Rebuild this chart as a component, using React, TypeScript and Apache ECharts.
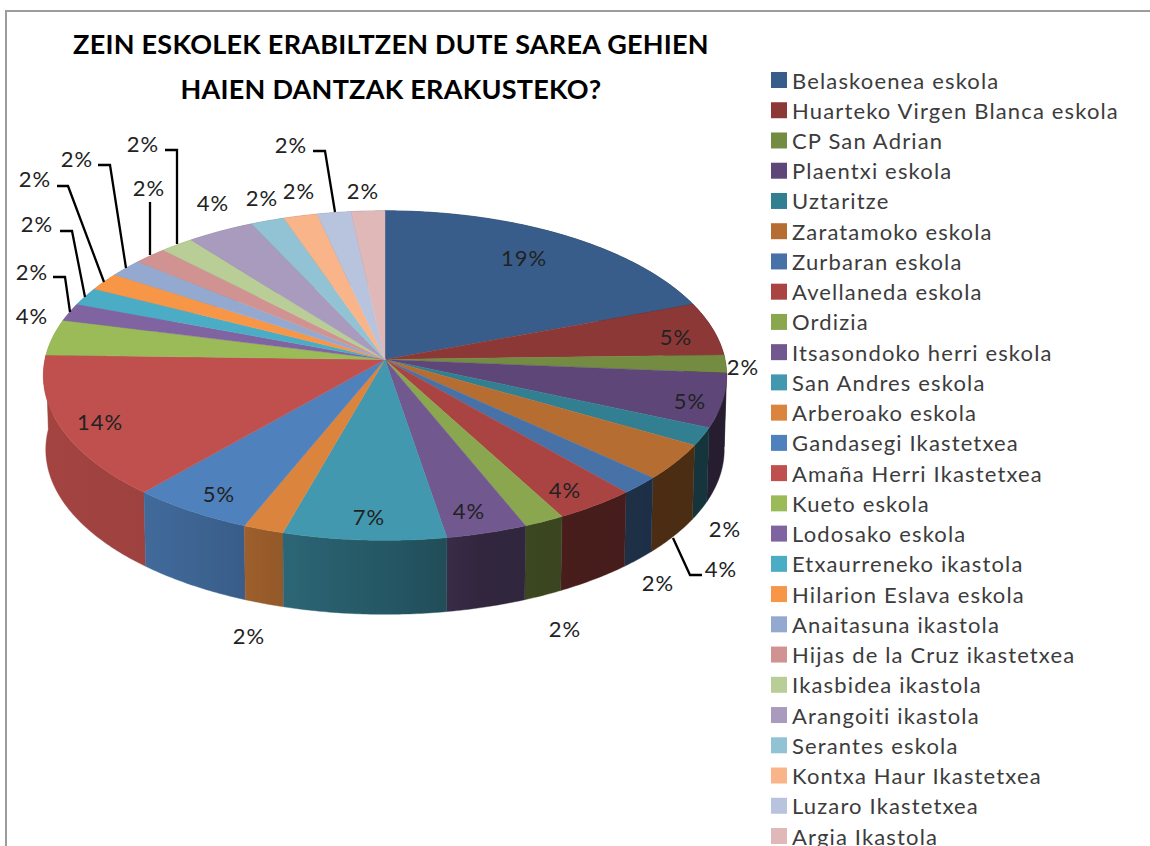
import React, { useEffect, useRef } from "react";
import * as echarts from "echarts";

const TITLE = "ZEIN ESKOLEK ERABILTZEN DUTE SAREA GEHIEN\nHAIEN DANTZAK ERAKUSTEKO?";

const schools = [
  "Belaskoenea eskola", "Huarteko Virgen Blanca eskola", "CP San Adrian", "Plaentxi eskola", "Uztaritze",
  "Zaratamoko eskola", "Zurbaran eskola", "Avellaneda eskola", "Ordizia", "Itsasondoko herri eskola",
  "San Andres eskola", "Arberoako eskola", "Gandasegi Ikastetxea", "Amaña Herri Ikastetxea", "Kueto eskola",
  "Lodosako eskola", "Etxaurreneko ikastola", "Hilarion Eslava eskola", "Anaitasuna ikastola",
  "Hijas de la Cruz ikastetxea", "Ikasbidea ikastola", "Arangoiti ikastola", "Serantes eskola",
  "Kontxa Haur Ikastetxea", "Luzaro Ikastetxea", "Argia Ikastola",
];

const counts = [11, 3, 1, 3, 1, 2, 1, 2, 1, 2, 4, 1, 3, 8, 2, 1, 1, 1, 1, 1, 1, 2, 1, 1, 1, 1];

const colors = [
  "#385d8a", "#8c3836", "#748c41", "#5e4778", "#327f92", "#b66d31", "#4672a8", "#a94442", "#8aa64e",
  "#71588f", "#4198af", "#db843d", "#4f81bd", "#c0504d", "#9bbb59", "#8064a2", "#4bacc6", "#f79646",
  "#93a9cf", "#d19392", "#b9cd96", "#a99bbd", "#91c3d5", "#f9b48a", "#b8c4de", "#e0b8b8",
];

// label centres, page pixels
const labelLayout: number[][] = [
  [524, 257], [676, 336], [743, 366], [690, 400], [725, 528], [721, 568], [658, 582], [565, 489], [565, 628],
  [469, 510], [369, 516], [249, 635], [219, 493], [100, 421], [32, 315], [32, 271], [37, 223], [35, 178],
  [77, 158], [149, 187], [143, 143], [213, 202], [262, 197], [299, 190], [291, 144], [363, 190],
];

// leader lines by slice index
const leaderLayout: Record<number, number[][]> = {
  5: [[673, 538], [690, 575], [702, 575]],
  15: [[70, 312], [65, 277], [53, 277]],
  16: [[85, 297], [72, 231], [60, 231]],
  17: [[104, 282], [68, 186], [57, 186]],
  18: [[126, 268], [110, 165], [98, 165]],
  19: [[150, 255], [150, 202]],
  20: [[177, 244], [177, 150], [165, 150]],
  24: [[335, 212], [325, 151], [313, 151]],
};

const CX = 385, CY = 359.5, A = 163.2, B = 340, P = 0.0976, DEPTH = 74, BOTTOM_SHRINK = 0.993;
const shadeStops = [[43, 0.85], [150, 0.82], [245, 0.72], [300, 0.65], [440, 0.52], [480, 0.43], [600, 0.42], [727, 0.41]];

const total = counts.reduce((a, b) => a + b, 0);
const startFrac: number[] = [];
counts.reduce((acc, c, i) => { startFrac[i] = acc / total; return acc + c; }, 0);

function project(theta: number): number[] {
  const u = Math.sin(theta), v = -Math.cos(theta);
  const w = 1 - P * v;
  return [CX + (B * u) / w, CY + (A * v) / w];
}

function shadeAt(x: number): number {
  if (x <= shadeStops[0][0]) return shadeStops[0][1];
  for (let i = 1; i < shadeStops.length; i++) {
    if (x <= shadeStops[i][0]) {
      const [x0, s0] = shadeStops[i - 1], [x1, s1] = shadeStops[i];
      return s0 + ((s1 - s0) * (x - x0)) / (x1 - x0);
    }
  }
  return shadeStops[shadeStops.length - 1][1];
}

function mul(hex: string, k: number): string {
  const n = parseInt(hex.slice(1), 16);
  const f = (s: number) => Math.round(((n >> s) & 255) * k);
  return `rgb(${f(16)},${f(8)},${f(0)})`;
}

function renderSlice(params: any, api: any) {
  const i = params.seriesIndex;
  const value = api.value(0);
  const color = colors[i];
  const a0 = startFrac[i] * Math.PI * 2;
  const a1 = a0 + (value / total) * Math.PI * 2;
  const steps = Math.max(4, Math.ceil((a1 - a0) / 0.01));
  const arc: number[][] = [];
  for (let s = 0; s <= steps; s++) arc.push(project(a0 + ((a1 - a0) * s) / steps));
  const bottom = arc.slice().reverse().map(([x, y]) => [CX + (x - CX) * BOTTOM_SHRINK, y + DEPTH]);
  const xs = arc.map((p) => p[0]);
  const xMin = Math.min(...xs), xMax = Math.max(...xs);
  const wallStops = [0, 0.25, 0.5, 0.75, 1].map((t) => ({
    offset: t,
    color: mul(color, shadeAt(xMin + (xMax - xMin) * t)),
  }));
  const wallFill = new echarts.graphic.LinearGradient(xMin, 0, xMax + 0.01, 0, wallStops, true);
  // walls nearer the viewer paint over those behind them
  const depthOrder = 10 - Math.cos((a0 + a1) / 2) * 5;
  const children: any[] = [
    {
      type: "polygon", z2: depthOrder,
      shape: { points: arc.concat(bottom) },
      style: { fill: wallFill, stroke: wallFill, lineWidth: 0.4 },
    },
    {
      type: "polygon", z2: 20,
      shape: { points: [[CX, CY]].concat(arc) },
      style: { fill: color, stroke: color, lineWidth: 0.4 },
    },
  ];
  const leader = leaderLayout[i];
  if (leader) {
    children.push({
      type: "polyline", z2: 30,
      shape: { points: leader },
      style: { fill: "none", stroke: "#000000", lineWidth: 2.3 },
    });
  }
  const [lx, ly] = labelLayout[i];
  children.push({
    type: "text", z2: 40,
    style: {
      text: `${Math.round((value / total) * 100)}%`, x: lx, y: ly,
      textAlign: "center", textVerticalAlign: "middle", verticalAlign: "middle",
      fill: "#222222", font: "22px Lato",
    },
  });
  return { type: "group", children };
}

export default function App() {
  const ref = useRef<HTMLDivElement>(null);
  useEffect(() => {
    const chart = echarts.init(ref.current!, undefined, { renderer: "svg" });
    chart.setOption({
      animation: false,
      backgroundColor: "#ffffff",
      title: {
        text: TITLE, left: 386, top: 16, textAlign: "center",
        textStyle: { fontFamily: "Lato", fontWeight: "bold", fontSize: 27, lineHeight: 45, color: "#000000" },
      },
      legend: {
        orient: "vertical", left: 771, top: 69, height: 790, padding: 0,
        itemWidth: 16, itemHeight: 16, itemGap: 8.24, icon: "rect", selectedMode: false,
        data: schools,
        textStyle: { fontFamily: "Lato", fontSize: 22, color: "#3c3c3c" },
      },
      graphic: {
        elements: [
          {
            type: "polyline", silent: true,
            shape: { points: [[6, 846], [6, 11], [1150, 11]] },
            style: { fill: "none", stroke: "#9c9c9c", lineWidth: 2 },
          },
        ],
      },
      series: schools.map((name, i) => ({
        type: "custom", name, coordinateSystem: "none",
        itemStyle: { color: colors[i] },
        renderItem: renderSlice,
        data: [[counts[i]]],
        silent: true,
      })),
    });
    // Letter spacing: ECharts has no option for it, so it goes on the drawn SVG text.
    ref.current!.querySelectorAll("text").forEach((t: any) => {
      const s = t.textContent || "";
      if (schools.includes(s)) t.style.letterSpacing = "1.15px";
      else if (s.endsWith("%")) t.style.letterSpacing = "1px";
      else t.style.letterSpacing = "0.25px";
    });
    return () => chart.dispose();
  }, []);
  return <div ref={ref} style={{ position: "absolute", left: 0, top: 0, width: 1150, height: 846 }} />;
}
